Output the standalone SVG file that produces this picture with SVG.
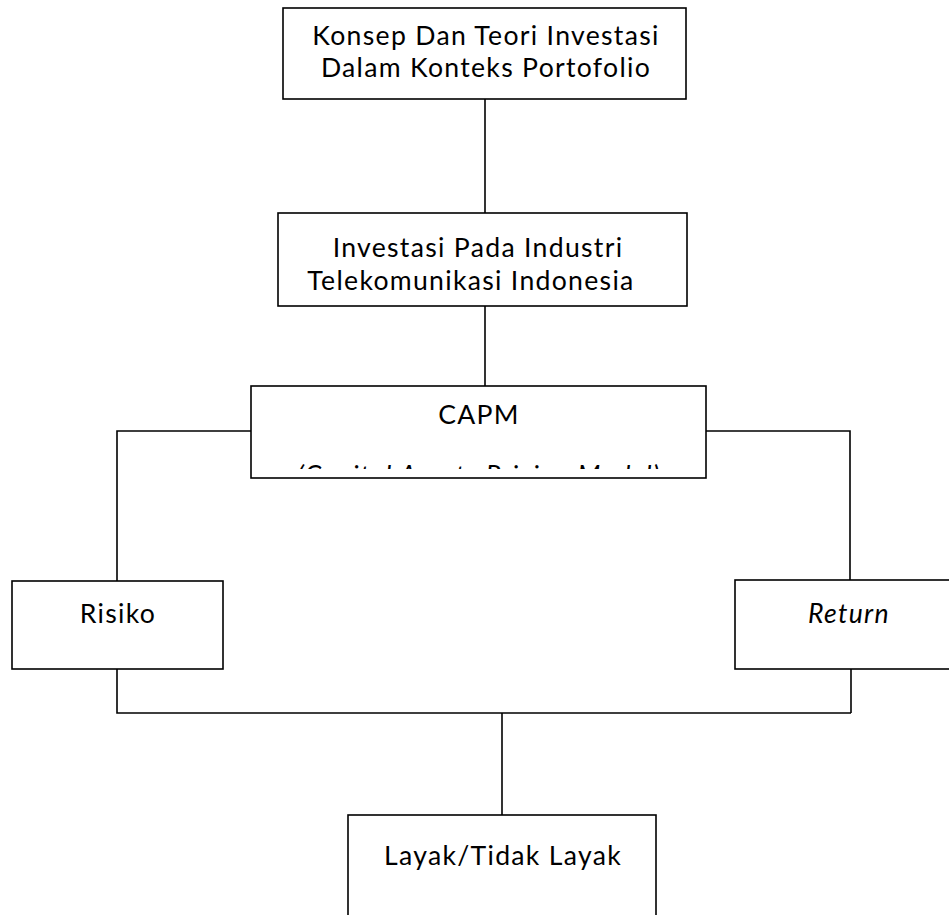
<svg xmlns="http://www.w3.org/2000/svg" width="949" height="915" viewBox="0 0 949 915">
<style>
.box{fill:#fff;stroke:#000;stroke-width:1.6}
.ln{fill:none;stroke:#000;stroke-width:1.6}
text{font-family:Lato,"Open Sans",sans-serif;font-size:26.6px;letter-spacing:1.3px;fill:#000;text-anchor:middle}
.it{font-style:italic}
</style>
<defs>
<clipPath id="capmClip"><rect x="252" y="387" width="453" height="82"/></clipPath>
</defs>
<g id="connectors">
<path class="ln" d="M485,99 V213"/>
<path class="ln" d="M485,306 V386"/>
<path class="ln" d="M251,431 H117 V581"/>
<path class="ln" d="M706,431 H850 V580"/>
<path class="ln" d="M117,669 V713 H851"/>
<path class="ln" d="M851,669 V713"/>
<path class="ln" d="M502,713 V815"/>
</g>
<g id="node-konsep">
<rect class="box" x="283" y="8" width="403" height="91"/>
<text x="486" y="45">Konsep Dan Teori Investasi</text>
<text x="486" y="77">Dalam Konteks Portofolio</text>
</g>
<g id="node-investasi">
<rect class="box" x="278" y="213" width="409" height="93"/>
<text x="478" y="257">Investasi Pada Industri</text>
<text x="471" y="290">Telekomunikasi Indonesia</text>
</g>
<g id="node-capm">
<rect class="box" x="251" y="386" width="455" height="92"/>
<text x="479" y="424">CAPM</text>
<g clip-path="url(#capmClip)"><text class="it" x="479" y="485">(Capital Assets Pricing Model)</text></g>
</g>
<g id="node-risiko">
<rect class="box" x="12" y="581" width="211" height="88"/>
<text x="118" y="623">Risiko</text>
</g>
<g id="node-return">
<rect class="box" x="735" y="580" width="230" height="89"/>
<text class="it" x="849" y="623">Return</text>
</g>
<g id="node-layak">
<rect class="box" x="348" y="815" width="308" height="120"/>
<text x="503" y="865">Layak/Tidak Layak</text>
</g>
</svg>
